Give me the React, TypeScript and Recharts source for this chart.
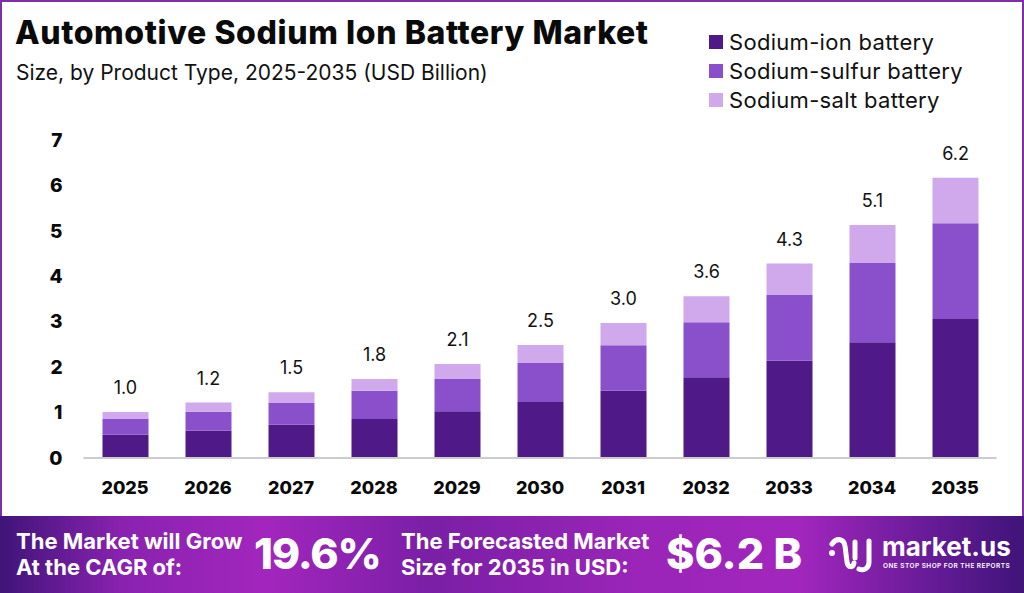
import React from 'react';
import { BarChart, Bar, XAxis, YAxis, Legend, LabelList } from 'recharts';

const years = ['2025', '2026', '2027', '2028', '2029', '2030', '2031', '2032', '2033', '2034', '2035'];
const sodiumIon = [0.51, 0.6, 0.73, 0.86, 1.03, 1.23, 1.48, 1.78, 2.14, 2.55, 3.06];
const sodiumSulfur = [0.35, 0.42, 0.48, 0.62, 0.71, 0.86, 1.0, 1.21, 1.45, 1.74, 2.11];
const sodiumSalt = [0.15, 0.2, 0.24, 0.26, 0.33, 0.4, 0.49, 0.57, 0.69, 0.84, 1.0];
const totals = [1.0, 1.2, 1.5, 1.8, 2.1, 2.5, 3.0, 3.6, 4.3, 5.1, 6.2];
const yTicks = [0, 1, 2, 3, 4, 5, 6, 7];

const rows = years.map((year, i) => ({
  year,
  ion: sodiumIon[i],
  sulfur: sodiumSulfur[i],
  salt: sodiumSalt[i],
  total: totals[i],
}));

const FONT = 'Inter, "Open Sans", sans-serif';

const LegendBox = ({ payload }: any) => (
  <div>
    {(payload || []).map((p: any) => (
      <div key={p.value} style={{ display: 'flex', alignItems: 'center', height: 29 }}>
        <span style={{ width: 14, height: 14, background: p.color, marginRight: 6 }} />
        <span style={{ fontSize: 22, letterSpacing: 0.3, color: '#111', whiteSpace: 'nowrap' }}>{p.value}</span>
      </div>
    ))}
  </div>
);

const App = () => (
  <div style={{ position: 'relative', width: 1024, height: 593, background: '#fff', fontFamily: FONT, overflow: 'hidden' }}>
    <style>{'body{margin:0}'}</style>
    <div style={{ position: 'absolute', inset: '0 0 70px 0', border: '2px solid #7b2fa8', boxSizing: 'border-box' }} />
    <div style={{ position: 'absolute', left: 15, top: 13, fontSize: 32, letterSpacing: 0.6, fontWeight: 800, color: '#0a0a0a', whiteSpace: 'nowrap' }}>
      Automotive Sodium Ion Battery Market
    </div>
    <div style={{ position: 'absolute', left: 16, top: 60, fontSize: 21, color: '#111', whiteSpace: 'nowrap' }}>
      Size, by Product Type, 2025-2035 (USD Billion)
    </div>

    <div style={{ position: 'absolute', left: 0, top: 0 }}>
      <BarChart width={1024} height={593} data={rows} margin={{ top: 140, right: 27.5, bottom: 0, left: 0 }} barSize={46}>
        <XAxis
          dataKey="year"
          tickLine={false}
          axisLine={{ stroke: '#cccccc', strokeWidth: 2 }}
          tick={{ fill: '#0a0a0a', fontSize: 18, fontWeight: 800, fontFamily: FONT }}
          tickMargin={17}
          height={135}
        />
        <YAxis
          domain={[0, 7]}
          ticks={yTicks}
          width={83.5}
          tickLine={false}
          axisLine={false}
          tick={{ fill: '#0a0a0a', fontSize: 19, fontWeight: 800, fontFamily: FONT }}
          tickMargin={15}
        />
        <Legend
          layout="vertical"
          align="center"
          verticalAlign="middle"
          itemSorter={null}
          content={<LegendBox />}
          wrapperStyle={{ position: 'absolute', left: 709, top: 27, width: 300, fontFamily: FONT }}
        />
        <Bar dataKey="ion" name="Sodium-ion battery" stackId="a" fill="#4f1a87" isAnimationActive={false} />
        <Bar dataKey="sulfur" name="Sodium-sulfur battery" stackId="a" fill="#8a50cc" isAnimationActive={false} />
        <Bar dataKey="salt" name="Sodium-salt battery" stackId="a" fill="#d0a8ec" isAnimationActive={false}>
          <LabelList
            dataKey="total"
            position="top"
            offset={18}
            formatter={(v: number) => v.toFixed(1)}
            style={{ fill: '#111', fontSize: 18, fontFamily: FONT }}
          />
        </Bar>
      </BarChart>
    </div>

    <div
      style={{
        position: 'absolute', left: 0, top: 516, width: 1024, height: 77, color: '#fff',
        background: 'linear-gradient(90deg, #3f1478 0%, #8a22b0 12%, #a226bd 26%, #7a1fa6 42%, #9a25b8 62%, #a226bd 78%, #6a1c9a 90%, #3f1478 100%)',
      }}
    >
      <div style={{ position: 'absolute', left: 16, top: 12, fontSize: 22, fontWeight: 700, lineHeight: '26px', whiteSpace: 'nowrap' }}>
        The Market will Grow<br />At the CAGR of:
      </div>
      <div style={{ position: 'absolute', left: 254, top: 11, fontSize: 43, letterSpacing: -1.2, fontWeight: 800, lineHeight: '52px', whiteSpace: 'nowrap' }}>19.6%</div>
      <div style={{ position: 'absolute', left: 401, top: 12, fontSize: 22, fontWeight: 700, lineHeight: '26px', whiteSpace: 'nowrap' }}>
        The Forecasted Market<br />Size for 2035 in USD:
      </div>
      <div style={{ position: 'absolute', left: 666, top: 11, fontSize: 43, fontWeight: 800, lineHeight: '52px', whiteSpace: 'nowrap' }}>$6.2 B</div>
      <svg style={{ position: 'absolute', left: 829, top: 20, width: 46, height: 40 }} viewBox="0 0 46 40" fill="none" stroke="#fff" strokeWidth={5} strokeLinecap="round">
        <circle cx={3} cy={17} r={1.5} fill="#fff" strokeWidth={3} />
        <path d="M3 8 C8 1 15 3 16 10 L18 26 C19 32 24 32 25 27" />
        <path d="M26 6 V22" />
        <path d="M40 5 V26 C40 33 34 35 30 33" />
      </svg>
      <div style={{ position: 'absolute', left: 882, top: 15, fontSize: 26, fontWeight: 700, lineHeight: '32px', whiteSpace: 'nowrap' }}>market.us</div>
      <div style={{ position: 'absolute', left: 883, top: 46, fontSize: 6.5, fontWeight: 600, letterSpacing: 0.45, whiteSpace: 'nowrap' }}>ONE STOP SHOP FOR THE REPORTS</div>
    </div>
  </div>
);

export default App;
